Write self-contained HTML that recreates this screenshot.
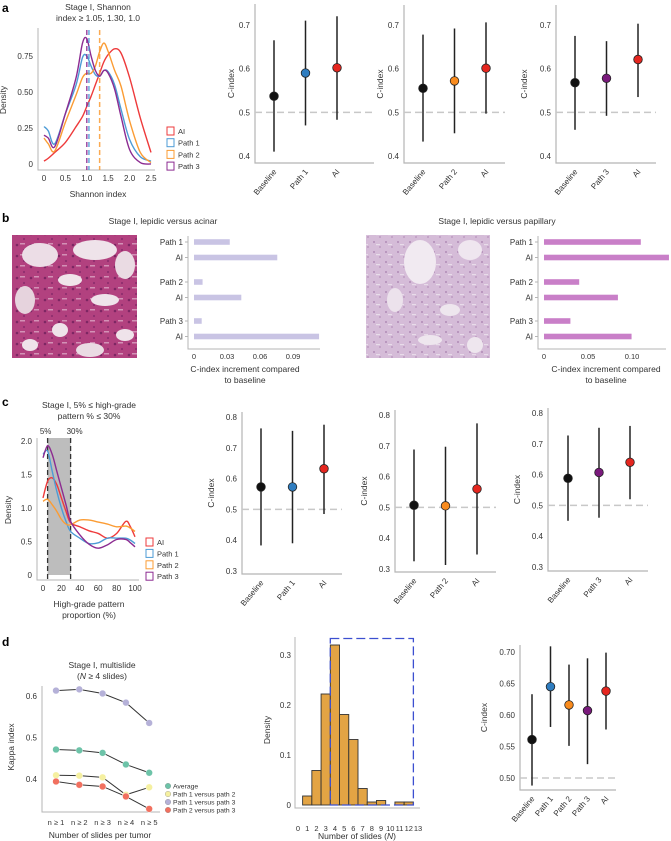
<!DOCTYPE html>
<html><head><meta charset="utf-8"><style>
html,body{margin:0;padding:0;background:#fff;}
svg{display:block;font-family:"Liberation Sans",sans-serif;}
text{fill:#333;}
</style></head><body>
<svg id="fig" width="671" height="841" viewBox="0 0 671 841" xmlns="http://www.w3.org/2000/svg">
<defs>
<pattern id="tex1" width="14" height="11" patternUnits="userSpaceOnUse">
<circle cx="3" cy="3" r="1.3" fill="#5a1450" opacity="0.6"/><circle cx="10" cy="8" r="1.1" fill="#6a1a5e" opacity="0.5"/><rect x="6" y="1" width="5" height="1.5" fill="#e9c6da" opacity="0.6"/>
</pattern>
<pattern id="tex2" width="12" height="10" patternUnits="userSpaceOnUse">
<circle cx="2" cy="2" r="1" fill="#8a5a92" opacity="0.5"/><circle cx="8" cy="7" r="1" fill="#9a6aa2" opacity="0.4"/><rect x="4" y="4" width="4" height="1.2" fill="#f2eaf2" opacity="0.7"/>
</pattern>
</defs>
<text x="2" y="12" font-size="12" font-weight="bold" style="fill:#000">a</text>
<text x="2" y="222" font-size="12" font-weight="bold" style="fill:#000">b</text>
<text x="2" y="406" font-size="12" font-weight="bold" style="fill:#000">c</text>
<text x="2" y="646" font-size="12" font-weight="bold" style="fill:#000">d</text>
<text x="98" y="10" font-size="8.5" text-anchor="middle">Stage I, Shannon</text>
<text x="98" y="21" font-size="8.5" text-anchor="middle">index ≥ 1.05, 1.30, 1.0</text>
<text x="163" y="224" font-size="8.5" text-anchor="middle">Stage I, lepidic versus acinar</text>
<text x="497" y="224" font-size="8.5" text-anchor="middle">Stage I, lepidic versus papillary</text>
<text x="89" y="408" font-size="8.5" text-anchor="middle">Stage I, 5% ≤ high-grade</text>
<text x="89" y="419" font-size="8.5" text-anchor="middle">pattern % ≤ 30%</text>
<text x="102" y="668" font-size="8.5" text-anchor="middle">Stage I, multislide</text>
<text x="102" y="679" font-size="8.5" text-anchor="middle">(<tspan font-style="italic">N</tspan> ≥ 4 slides)</text>
<g>
<rect x="12" y="235" width="125" height="123" fill="#b2417f"/>
<rect x="12" y="235" width="125" height="123" fill="url(#tex1)"/>
<ellipse cx="40" cy="255" rx="18" ry="12" fill="#ecdde6"/><ellipse cx="95" cy="250" rx="22" ry="10" fill="#efe3ea"/>
<ellipse cx="125" cy="265" rx="10" ry="14" fill="#eadbe3"/><ellipse cx="70" cy="280" rx="12" ry="6" fill="#f0e4ea"/>
<ellipse cx="25" cy="300" rx="10" ry="14" fill="#e6d3dd"/><ellipse cx="105" cy="300" rx="14" ry="6" fill="#efe3ea"/>
<ellipse cx="60" cy="330" rx="8" ry="7" fill="#efe3ea"/><ellipse cx="90" cy="350" rx="14" ry="7" fill="#eadbe3"/>
<ellipse cx="125" cy="335" rx="9" ry="6" fill="#efe3ea"/><ellipse cx="30" cy="345" rx="8" ry="6" fill="#efe3ea"/>
</g>
<g>
<rect x="366" y="235" width="124" height="123" fill="#d5bcd8"/>
<rect x="366" y="235" width="124" height="123" fill="url(#tex2)"/>
<ellipse cx="420" cy="262" rx="16" ry="22" fill="#f1eaf1"/><ellipse cx="470" cy="250" rx="12" ry="10" fill="#efe6ef"/>
<ellipse cx="395" cy="300" rx="8" ry="12" fill="#ece2ec"/><ellipse cx="450" cy="310" rx="10" ry="6" fill="#eee6ee"/>
<ellipse cx="430" cy="340" rx="12" ry="5" fill="#eee6ee"/><ellipse cx="475" cy="345" rx="8" ry="8" fill="#eee6ee"/>
</g>
</svg>
<script>
// ---------- DATA ----------
const aDensX=[0,0.1,0.25,0.5,0.75,0.9,1.0,1.1,1.2,1.3,1.4,1.5,1.65,1.8,2.0,2.25,2.5];
const aDensAI=[0.02,0.04,0.08,0.15,0.26,0.33,0.40,0.47,0.55,0.63,0.71,0.76,0.80,0.77,0.60,0.32,0.08];
const aDensP1=[0.26,0.23,0.14,0.35,0.55,0.74,0.75,0.68,0.62,0.61,0.65,0.64,0.55,0.38,0.17,0.05,0.02];
const aDensP2=[0.18,0.14,0.09,0.29,0.48,0.60,0.63,0.63,0.68,0.78,0.84,0.78,0.65,0.54,0.30,0.08,0.01];
const aDensP3=[0.20,0.18,0.12,0.35,0.60,0.84,0.87,0.75,0.65,0.61,0.65,0.63,0.52,0.33,0.10,0.01,0.0];
const aThresh=[1.05,1.30,1.0];
const aXTicks=[0,0.5,1.0,1.5,2.0,2.5];
const aYTicks=[0,0.25,0.5,0.75];
const aYTickLabels=['0','0.25','0.50','0.75'];

const cDensX=[0,5,10,15,20,25,30,40,50,60,70,80,90,95,100];
const cDensAI=[1.15,1.4,1.45,1.35,1.15,0.95,0.78,0.72,0.66,0.62,0.55,0.62,0.8,0.72,0.57];
const cDensP1=[1.8,1.85,1.55,1.25,1.0,0.8,0.65,0.55,0.47,0.48,0.55,0.55,0.55,0.52,0.47];
const cDensP2=[1.1,1.13,1.05,0.95,0.83,0.76,0.75,0.82,0.82,0.79,0.76,0.72,0.73,0.7,0.65];
const cDensP3=[1.75,1.93,1.8,1.55,1.3,1.05,0.8,0.6,0.46,0.40,0.45,0.53,0.53,0.48,0.42];
const cBand=[5,30];
const cXTicks=[0,20,40,60,80,100];
const cYTicks=[0,0.5,1.0,1.5,2.0];
const cYTickLabels=['0','0.5','1.0','1.5','2.0'];

const seriesNames=['AI','Path 1','Path 2','Path 3'];

const a1Cats=['Baseline','Path 1','AI'], a1Est=[0.537,0.590,0.602], a1Lo=[0.410,0.470,0.483], a1Hi=[0.665,0.710,0.720];
const a2Cats=['Baseline','Path 2','AI'], a2Est=[0.555,0.572,0.601], a2Lo=[0.433,0.452,0.497], a2Hi=[0.678,0.692,0.706];
const a3Cats=['Baseline','Path 3','AI'], a3Est=[0.568,0.578,0.621], a3Lo=[0.460,0.492,0.535], a3Hi=[0.675,0.663,0.703];
const aCTicks=[0.4,0.5,0.6,0.7];

const c1Cats=['Baseline','Path 1','AI'], c1Est=[0.573,0.573,0.632], c1Lo=[0.383,0.390,0.485], c1Hi=[0.763,0.755,0.775];
const c2Cats=['Baseline','Path 2','AI'], c2Est=[0.507,0.505,0.560], c2Lo=[0.325,0.313,0.347], c2Hi=[0.688,0.697,0.773];
const c3Cats=['Baseline','Path 3','AI'], c3Est=[0.588,0.607,0.640], c3Lo=[0.450,0.460,0.520], c3Hi=[0.727,0.752,0.758];
const cCTicks=[0.3,0.4,0.5,0.6,0.7,0.8];

const dCats=['Baseline','Path 1','Path 2','Path 3','AI'], dEst=[0.561,0.645,0.616,0.607,0.638], dLo=[0.488,0.581,0.551,0.522,0.577], dHi=[0.633,0.709,0.680,0.690,0.699];
const dCTicks=[0.50,0.55,0.60,0.65,0.70];
const dCTickLabels=['0.50','0.55','0.60','0.65','0.70'];

const bCats=['Path 1','AI','Path 2','AI','Path 3','AI'];
const bLeftVals=[0.0325,0.0757,0.0078,0.043,0.007,0.1137];
const bRightVals=[0.110,0.142,0.040,0.084,0.030,0.0995];
const bLeftTicks=[0,0.03,0.06,0.09], bLeftTickLabels=['0','0.03','0.06','0.09'];
const bRightTicks=[0,0.05,0.10], bRightTickLabels=['0','0.05','0.10'];

const kCats=['n ≥ 1','n ≥ 2','n ≥ 3','n ≥ 4','n ≥ 5'];
const kAverage=[0.471,0.469,0.463,0.435,0.415];
const kP1P2=[0.409,0.408,0.404,0.362,0.380];
const kP1P3=[0.613,0.616,0.606,0.584,0.535];
const kP2P3=[0.394,0.386,0.382,0.358,0.328];
const kNames=['Average','Path 1 versus path 2','Path 1 versus path 3','Path 2 versus path 3'];
const kYTicks=[0.4,0.5,0.6];

const hBins=[1,2,3,4,5,6,7,8,9,10,11,12];
const hDens=[0.018,0.069,0.222,0.320,0.181,0.131,0.033,0.006,0.009,0,0.006,0.006];
const hXTicks=[0,1,2,3,4,5,6,7,8,9,10,11,12,13];
const hYTicks=[0,0.1,0.2,0.3];
const hWindow=[3.5,12.5,0.333];

// ---------- HELPERS ----------
const NS='http://www.w3.org/2000/svg';
const svg=document.getElementById('fig');
function mk(tag,at){const e=document.createElementNS(NS,tag);for(const k in at)e.setAttribute(k,at[k]);svg.appendChild(e);return e;}
function txt(s,at){const e=mk('text',at);e.textContent=s;return e;}
function lin(d0,d1,r0,r1){return v=>r0+(v-d0)*(r1-r0)/(d1-d0);}
function smooth(pts){let d='M'+pts[0][0]+','+pts[0][1];for(let i=0;i<pts.length-1;i++){const p0=pts[i-1]||pts[i],p1=pts[i],p2=pts[i+1],p3=pts[i+2]||p2;
 const c1x=p1[0]+(p2[0]-p0[0])/6,c1y=p1[1]+(p2[1]-p0[1])/6,c2x=p2[0]-(p3[0]-p1[0])/6,c2y=p2[1]-(p3[1]-p1[1])/6;
 d+=' C'+c1x+','+c1y+' '+c2x+','+c2y+' '+p2[0]+','+p2[1];}return d;}
const AX='#b5b5b5';
const densCols=['#ee3a3b','#4d9bd6','#fb9c34','#8c2b91'];
const ptCols={'Baseline':'#111','Path 1':'#2f7dc0','Path 2':'#f98b1d','Path 3':'#7a1a7c','AI':'#e5261f'};

function ylabel(s,x,y,name){const t=txt(s,{x:x,y:y,'font-size':8.5,'text-anchor':'middle',transform:'rotate(-90 '+x+' '+y+')'});
 
 return t;}

function drawDensity(cfg,xs,series,ticksX,ticksY,ticksYL,pfx){
 const X=lin(cfg.xd0,cfg.xd1,cfg.x0,cfg.x1),Y=lin(0,cfg.yd1,cfg.y0,cfg.y1);
 const ax=mk('path',{d:'M'+(cfg.ax)+','+cfg.top+' V'+cfg.bot+' H'+(cfg.x1+4),stroke:AX,fill:'none','stroke-width':1});
 
 
 ticksY.forEach((v,i)=>{const t=txt(ticksYL[i],{x:cfg.ax-5,y:Y(v)+3,'font-size':8,'text-anchor':'end'});
  
  });
 ticksX.forEach(v=>{const t=txt(cfg.intX?String(v):v.toFixed(1).replace(/^0\.0$/,'0'),{x:X(v),y:cfg.bot+11,'font-size':8,'text-anchor':'middle'});
  
  });
 series.forEach((ys,k)=>{const p=mk('path',{d:smooth(xs.map((x,i)=>[X(x),Y(ys[i])])),fill:'none',stroke:densCols[k],'stroke-width':1.4});
  
  });
 seriesNames.forEach((n,k)=>{const yy=cfg.legY+k*cfg.legDy;
  const r=mk('rect',{x:cfg.legX,y:yy-4,width:7,height:8,fill:'none',stroke:densCols[k],'stroke-width':1});
  
  
  const t=txt(n,{x:cfg.legX+11,y:yy+3,'font-size':7.5});
  
  });
 return {X:X,Y:Y};
}

function drawC(cfg,cats,est,lo,hi,ticks,tickL,pfx){
 const Y=lin(cfg.vA,cfg.vB,cfg.yA,cfg.yB);
 const ax=mk('path',{d:'M'+cfg.x0+','+cfg.top+' V'+cfg.bot+' H'+cfg.x1,stroke:AX,fill:'none','stroke-width':1.2});
 
 
 ticks.forEach((v,i)=>{const t=txt(tickL?tickL[i]:v.toFixed(1),{x:cfg.x0-5,y:Y(v)+3,'font-size':8,'text-anchor':'end'});
  
  });
 const ref=mk('line',{x1:cfg.x0,x2:cfg.x1,y1:Y(0.5),y2:Y(0.5),stroke:'#c8c8c8','stroke-width':1.5,'stroke-dasharray':'7,4'});
 
 
 ylabel('C-index',cfg.lx,(cfg.top+cfg.bot)/2,pfx+'-y-axis-title');
 cats.forEach((c,i)=>{const x=cfg.px0+i*cfg.step;
  const l=mk('line',{x1:x,x2:x,y1:Y(lo[i]),y2:Y(hi[i]),stroke:'#222','stroke-width':1.5});
  
  
  const p=mk('circle',{cx:x,cy:Y(est[i]),r:4.3,fill:ptCols[c],stroke:'#222','stroke-width':0.8});
  
  
  const t=txt(c,{x:x+3,y:cfg.bot+9,'font-size':8,'text-anchor':'end',transform:'rotate(-50 '+(x+3)+' '+(cfg.bot+9)+')'});
  
  });
}

function drawBars(cfg,cats,vals,ticks,tickL,color,pfx){
 const X=lin(0,cfg.v1,cfg.x0,cfg.x1);
 const ax=mk('path',{d:'M'+cfg.ax+','+cfg.top+' V'+cfg.bot+' H'+cfg.end,stroke:AX,fill:'none','stroke-width':1});
 
 
 cats.forEach((c,i)=>{const y=cfg.rows[Math.floor(i/2)]+(i%2)*cfg.pairGap;
  const b=mk('rect',{x:X(0),y:y-2.8,width:X(vals[i])-X(0),height:5.6,fill:color});
  
  
  const tk=mk('line',{x1:cfg.ax-3,x2:cfg.ax,y1:y,y2:y,stroke:AX});
  
  
  const t=txt(c,{x:cfg.ax-5,y:y+3,'font-size':8,'text-anchor':'end'});
  
  });
 ticks.forEach((v,i)=>{const t=txt(tickL[i],{x:X(v),y:cfg.bot+10,'font-size':7.5,'text-anchor':'middle'});
  
  });
 const t1=txt('C-index increment compared',{x:cfg.lx,y:cfg.bot+23,'font-size':8.5,'text-anchor':'middle'});
 
 
 const t2=txt('to baseline',{x:cfg.lx,y:cfg.bot+34,'font-size':8.5,'text-anchor':'middle'});
 
 
}

// ---------- PANEL A ----------
const aD=drawDensity({xd0:0,xd1:2.5,x0:44,x1:151,ax:38,top:28,bot:170,yd1:0.75,y0:164,y1:56,legX:167,legY:131,legDy:11.7},
 aDensX,[aDensAI,aDensP1,aDensP2,aDensP3],aXTicks,aYTicks,aYTickLabels,'a-density');
const thrCols=['#4d9bd6','#fb9c34','#8c2b91'];
aThresh.forEach((v,i)=>{const l=mk('line',{x1:aD.X(v),x2:aD.X(v),y1:30,y2:170,stroke:thrCols[i],'stroke-width':1.5,'stroke-dasharray':'5,3',opacity:0.85});
 
 });
ylabel('Density',6,100,'a-density-y-axis-title');
{const t=txt('Shannon index',{x:98,y:197,'font-size':8.5,'text-anchor':'middle'});
 
 }
drawC({x0:255,x1:374,top:4,bot:163,vA:0.4,yA:156,vB:0.7,yB:25,px0:274,step:31.5,lx:234},a1Cats,a1Est,a1Lo,a1Hi,aCTicks,null,'a-cindex-1');
drawC({x0:404,x1:505,top:5,bot:163,vA:0.4,yA:156,vB:0.7,yB:25,px0:423,step:31.5,lx:383},a2Cats,a2Est,a2Lo,a2Hi,aCTicks,null,'a-cindex-2');
drawC({x0:556,x1:656,top:5,bot:163,vA:0.4,yA:156,vB:0.7,yB:25,px0:575,step:31.5,lx:527},a3Cats,a3Est,a3Lo,a3Hi,aCTicks,null,'a-cindex-3');

// ---------- PANEL B ----------
drawBars({ax:188,top:236,bot:349,end:320,x0:194,x1:227,v1:0.03,rows:[242,282,321],pairGap:15.5,lx:245},bCats,bLeftVals,bLeftTicks,bLeftTickLabels,'#c9c4e4','b-left');
drawBars({ax:538,top:236,bot:349,end:666,x0:544,x1:632,v1:0.10,rows:[242,282,321],pairGap:15.5,lx:606},bCats,bRightVals,bRightTicks,bRightTickLabels,'#c97fc8','b-right');

// ---------- PANEL C ----------
{const X=lin(0,100,43,135);
 const r=mk('rect',{x:X(cBand[0]),y:438,width:X(cBand[1])-X(cBand[0]),height:137,fill:'#bdbdbd'});
 
 
 cBand.forEach(v=>{const l=mk('line',{x1:X(v),x2:X(v),y1:438,y2:579,stroke:'#333','stroke-width':1.3,'stroke-dasharray':'5,3'});
  
  
  const t=txt(v+'%',{x:X(v)+(v<10?-2:4),y:434,'font-size':8,'text-anchor':'middle'});
  
  });}
drawDensity({xd0:0,xd1:100,x0:43,x1:135,ax:37,top:438,bot:580,yd1:2.0,y0:575,y1:441,legX:146,legY:542,legDy:11.4,intX:true},
 cDensX,[cDensAI,cDensP1,cDensP2,cDensP3],cXTicks,cYTicks,cYTickLabels,'c-density');
ylabel('Density',11,510,'c-density-y-axis-title');
{const t=txt('High-grade pattern',{x:89,y:607,'font-size':8.5,'text-anchor':'middle'});
 
 
 const t2=txt('proportion (%)',{x:89,y:618,'font-size':8.5,'text-anchor':'middle'});
 
 }
drawC({x0:242,x1:342,top:412,bot:574,vA:0.3,yA:571,vB:0.8,yB:417,px0:261,step:31.5,lx:214},c1Cats,c1Est,c1Lo,c1Hi,cCTicks,null,'c-cindex-1');
drawC({x0:395,x1:496,top:410,bot:572,vA:0.3,yA:569,vB:0.8,yB:415,px0:414,step:31.5,lx:367},c2Cats,c2Est,c2Lo,c2Hi,cCTicks,null,'c-cindex-2');
drawC({x0:548,x1:648,top:408,bot:571,vA:0.3,yA:567,vB:0.8,yB:413,px0:568,step:31,lx:520},c3Cats,c3Est,c3Lo,c3Hi,cCTicks,null,'c-cindex-3');

// ---------- PANEL D: kappa ----------
{const X=i=>56+i*23.3, Y=lin(0.4,0.6,779,696);
 const ax=mk('path',{d:'M42,686 V812 H160',stroke:AX,fill:'none','stroke-width':1});
 
 
 kYTicks.forEach(v=>{const t=txt(v.toFixed(1),{x:37,y:Y(v)+3,'font-size':8,'text-anchor':'end'});
  
  });
 kCats.forEach((c,i)=>{const t=txt(c,{x:X(i),y:825,'font-size':7.5,'text-anchor':'middle'});
  
  });
 const kSeries=[kAverage,kP1P2,kP1P3,kP2P3];
 const kCols=['#6dc3a8','#f5f0a0','#b5b1d8','#f1705f'];
 kSeries.forEach((s,k)=>{const p=mk('path',{d:'M'+s.map((v,i)=>X(i)+','+Y(v)).join(' L'),fill:'none',stroke:'#333','stroke-width':1});
  
  });
 kSeries.forEach((s,k)=>{s.forEach((v,i)=>{const c=mk('circle',{cx:X(i),cy:Y(v),r:3.4,fill:kCols[k],stroke:'#fff','stroke-width':0.4});
  
  });
  const lc=mk('circle',{cx:168,cy:786+k*8,r:2.8,fill:kCols[k],stroke:'#777','stroke-width':0.3});
  
  
  const lt=txt(kNames[k],{x:173,y:788.5+k*8,'font-size':6.8});
  
  });
 ylabel('Kappa index',14,747,'d-kappa-y-axis-title');
 const xt=txt('Number of slides per tumor',{x:100,y:838,'font-size':8.5,'text-anchor':'middle'});
 
 }

// ---------- PANEL D: histogram ----------
{const X=lin(0,13,298,418), Y=lin(0,0.3,805,655);
 const ax=mk('path',{d:'M295,637 V808 H420',stroke:AX,fill:'none','stroke-width':1});
 
 
 hBins.forEach((b,i)=>{if(hDens[i]<=0)return;const r=mk('rect',{x:X(b-0.5),y:Y(hDens[i]),width:X(b+0.5)-X(b-0.5),height:Y(0)-Y(hDens[i]),fill:'#e3a444',stroke:'#333','stroke-width':0.9});
  
  });
 const w=mk('rect',{x:X(hWindow[0]),y:Y(hWindow[2]),width:X(hWindow[1])-X(hWindow[0]),height:Y(0)-Y(hWindow[2]),fill:'none',stroke:'#3c4fd0','stroke-width':1.3,'stroke-dasharray':'9,4'});
 
 
 hXTicks.forEach(v=>{const t=txt(String(v),{x:X(v),y:831,'font-size':7.5,'text-anchor':'middle'});
  
  });
 hYTicks.forEach(v=>{const t=txt(v===0?'0':v.toFixed(1),{x:291,y:Y(v)+3,'font-size':8,'text-anchor':'end'});
  
  });
 ylabel('Density',270,730,'d-hist-y-axis-title');
 const xt=txt('',{x:357,y:839,'font-size':8.5,'text-anchor':'middle'});
 xt.innerHTML='Number of slides (<tspan font-style="italic">N</tspan>)';
 
 }

drawC({x0:520,x1:616,top:645,bot:790,vA:0.5,yA:778,vB:0.7,yB:652,px0:532,step:18.5,lx:487},dCats,dEst,dLo,dHi,dCTicks,dCTickLabels,'d-cindex');
</script>
</body></html>
